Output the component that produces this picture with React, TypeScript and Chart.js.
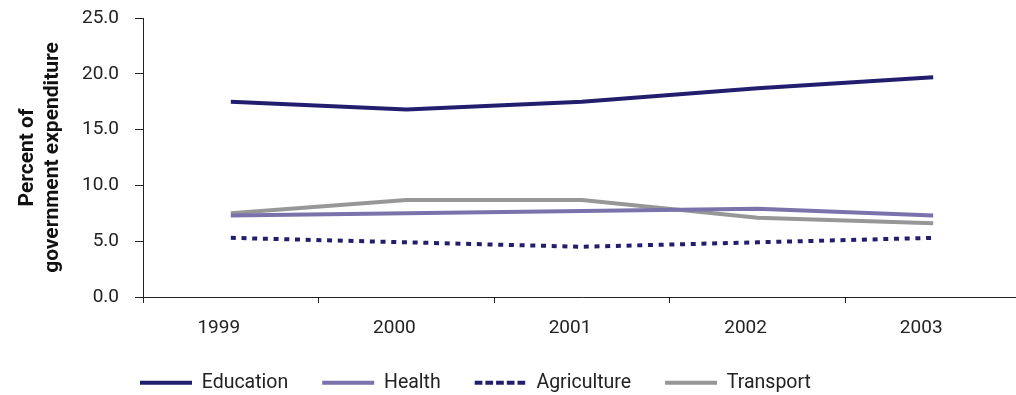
import React, { useEffect, useRef } from "react";
import { Chart, registerables } from "chart.js";

Chart.register(...registerables);

const years = ["1999", "2000", "2001", "2002", "2003"];
const education = [17.5, 16.8, 17.5, 18.7, 19.7];
const health = [7.3, 7.5, 7.7, 7.9, 7.3];
const agriculture = [5.3, 4.9, 4.5, 4.9, 5.3];
const transport = [7.5, 8.7, 8.7, 7.1, 6.6];
const yTitle = ["Percent of", "government expenditure"];

const FONT = "Roboto, 'Noto Sans', sans-serif";

const layoutTweak = {
  id: "layoutTweak",
  afterLayout(chart: any) {
    const l = chart.legend;
    if (l) {
      const w = l.right - l.left;
      l.left = 106;
      l.right = 106 + w;
      const h = l.bottom - l.top;
      l.top = 339;
      l.bottom = 339 + h;
    }
    const x = chart.scales.x;
    if (x) x.bottom = x.top + 60;
  },
};

export default function App() {
  const ref = useRef<HTMLCanvasElement>(null);
  useEffect(() => {
    document.body.style.margin = "0";
    const chart = new Chart(ref.current!, {
      type: "line",
      data: {
        labels: years,
        datasets: [
          { label: "Education", data: education, borderColor: "#221e6e", backgroundColor: "#221e6e", borderWidth: 4 },
          { label: "Health", data: health, borderColor: "#7a72aa", backgroundColor: "#7a72aa", borderWidth: 4 },
          { label: "Agriculture", data: agriculture, borderColor: "#221e6e", backgroundColor: "#221e6e", borderWidth: 4, borderDash: [5, 5.7] },
          { label: "Transport", data: transport, borderColor: "#979797", backgroundColor: "#979797", borderWidth: 4 },
        ],
      },
      plugins: [layoutTweak],
      options: {
        animation: false,
        responsive: true,
        maintainAspectRatio: false,
        elements: { point: { radius: 0 }, line: { tension: 0, borderCapStyle: "butt" } },
        layout: { padding: { left: 8, right: 1, top: 18, bottom: 0 } },
        plugins: {
          tooltip: { enabled: false },
          legend: {
            position: "bottom",
            align: "start",
            labels: {
              boxWidth: 52,
              boxHeight: 0,
              padding: 34,
              color: "#222",
              font: { family: FONT, size: 19.5 },
            },
          },
        },
        scales: {
          x: {
            offset: true,
            grid: { offset: true, drawOnChartArea: false, drawTicks: true, tickLength: 6, color: "#222", lineWidth: 1 },
            border: { display: true, color: "#222", width: 1 },
            ticks: { color: "#222", padding: 14, labelOffset: -12, font: { family: FONT, size: 19 } },
            afterFit: (s: any) => { s.height = 34.5; },
          },
          y: {
            min: 0,
            max: 25,
            grid: { drawOnChartArea: false, drawTicks: true, tickLength: 8, color: "#222", lineWidth: 1 },
            border: { display: true, color: "#222", width: 1 },
            ticks: {
              stepSize: 5,
              color: "#222",
              padding: 16,
              font: { family: FONT, size: 19 },
              callback: (v: any) => Number(v).toFixed(1),
            },
            title: {
              display: true,
              text: yTitle,
              color: "#111",
              padding: { top: 7, bottom: 0 },
              font: { family: FONT, size: 21, weight: "bold", lineHeight: 1.2 },
            },
            afterFit: (s: any) => { s.width = 135; s.paddingTop = 0; s.paddingBottom = 0; },
          },
        },
      },
    });
    return () => chart.destroy();
  }, []);
  return (
    <div style={{ position: "absolute", left: 0, top: 0, width: 1016, height: 395, overflow: "hidden" }}>
      <div style={{ width: 1022, height: 395, position: "relative" }}>
        <canvas ref={ref} />
      </div>
    </div>
  );
}
